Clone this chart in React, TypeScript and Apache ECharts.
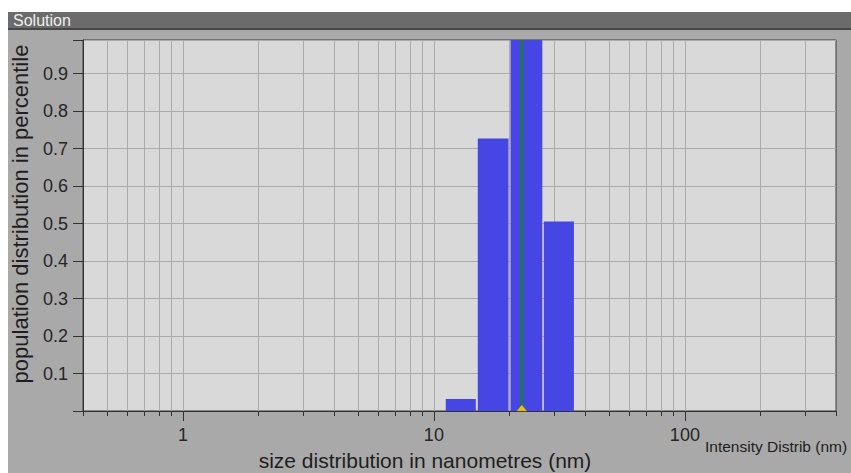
import React, { useEffect, useRef } from "react";
import * as echarts from "echarts";

// Histogram bins: [lower edge nm, upper edge nm, population fraction]
const binLower = [11.15, 14.96, 20.2, 27.42];
const binUpper = [14.69, 19.83, 27.04, 36.13];
const binValues = [0.032, 0.727, 0.99, 0.506];

// Mean size marker
const meanSize = [22.4];

// Axis settings / tick labels
const xMin = 0.4;
const xMax = 400;
const yMin = 0;
const yMax = 0.99;
const xMajorTicks = [1, 10, 100];
const xMinorTicks = [
  0.4, 0.5, 0.6, 0.7, 0.8, 0.9,
  2, 3, 4, 5, 6, 7, 8, 9,
  20, 30, 40, 50, 60, 70, 80, 90,
  200, 300, 400,
];
const yTickLabels = ["0.1", "0.2", "0.3", "0.4", "0.5", "0.6", "0.7", "0.8", "0.9"];

const FONT = "'Liberation Sans', Arial, Helvetica, sans-serif";

export default function App() {
  const ref = useRef<HTMLDivElement>(null);

  useEffect(() => {
    if (!ref.current) return;
    const chart = echarts.init(ref.current, null, { renderer: "svg" });

    const gridData = [
      ...xMinorTicks.map((v) => [v, 0]),
      ...xMajorTicks.map((v) => [v, 1]),
    ];
    const barData = binLower.map((lo, i) => [lo, binUpper[i], binValues[i]]);

    const isPow10 = (v: number) => {
      const l = Math.log10(v);
      return Math.abs(l - Math.round(l)) < 1e-6;
    };

    const option: any = {
      animation: false,
      backgroundColor: "#a9a9a9",
      grid: {
        left: 83,
        right: 15,
        top: 40,
        bottom: 62,
        show: true,
        backgroundColor: "#d9d9d9",
        borderColor: "#3a3a3a",
        borderWidth: 1,
      },
      xAxis: {
        type: "log",
        logBase: 10,
        min: xMin,
        max: xMax,
        axisLine: { show: true, lineStyle: { color: "#333", width: 1 } },
        axisTick: { show: false },
        splitLine: { show: false },
        minorTick: { show: false },
        axisLabel: {
          show: true,
          fontSize: 18,
          color: "#262626",
          fontFamily: FONT,
          margin: 15,
          showMinLabel: true,
          showMaxLabel: true,
          formatter: (v: number) =>
            isPow10(v) && xMajorTicks.some((t) => Math.abs(t - v) < 1e-6 * t)
              ? String(Math.round(v))
              : "",
        },
      },
      yAxis: {
        type: "value",
        min: yMin,
        max: yMax,
        interval: 0.1,
        axisLine: { show: true, lineStyle: { color: "#333", width: 1 } },
        axisTick: { show: true, length: 10, lineStyle: { color: "#333" } },
        splitLine: { show: true, lineStyle: { color: "#ababab", width: 1 } },
        axisLabel: {
          fontSize: 18,
          color: "#262626",
          fontFamily: FONT,
          margin: 15,
          formatter: (v: number) => {
            const s = v.toFixed(1);
            return yTickLabels.includes(s) && Math.abs(v - parseFloat(s)) < 1e-6 ? s : "";
          },
        },
      },
      graphic: [
        { type: "rect", shape: { x: 0, y: 0, width: 851, height: 12 }, style: { fill: "#ffffff" }, silent: true },
        { type: "rect", shape: { x: 0, y: 0, width: 8, height: 473 }, style: { fill: "#ffffff" }, silent: true },
        { type: "rect", shape: { x: 8, y: 12, width: 843, height: 17 }, style: { fill: "#6b6b6b" }, silent: true },
        { type: "rect", shape: { x: 8, y: 28, width: 843, height: 2 }, style: { fill: "#474747" }, silent: true },
        {
          type: "text",
          x: 13,
          y: 20,
          style: {
            text: "Solution",
            fill: "#efefef",
            font: `16px ${FONT}`,
            textVerticalAlign: "middle",
          },
          silent: true,
        },
        {
          type: "text",
          x: 425,
          y: 460,
          style: {
            text: "size distribution in nanometres (nm)",
            fill: "#1e1e1e",
            font: `21px ${FONT}`,
            textAlign: "center",
            textVerticalAlign: "middle",
          },
          silent: true,
        },
        {
          type: "text",
          x: 705,
          y: 446,
          style: {
            text: "Intensity Distrib (nm)",
            fill: "#1e1e1e",
            font: `15.5px ${FONT}`,
            textVerticalAlign: "middle",
          },
          silent: true,
        },
        {
          type: "text",
          x: 20,
          y: 214,
          rotation: Math.PI / 2,
          style: {
            text: "population distribution in percentile",
            fill: "#1e1e1e",
            font: `22px ${FONT}`,
            textAlign: "center",
            textVerticalAlign: "middle",
          },
          silent: true,
        },
      ],
      series: [
        {
          type: "custom",
          name: "xgrid",
          z: 1,
          silent: true,
          clip: false,
          data: gridData,
          encode: { x: 0, y: 1 },
          renderItem: (params: any, api: any) => {
            const v = api.value(0);
            const major = api.value(1) === 1;
            const pb = api.coord([v, yMin]);
            const pt = api.coord([v, yMax]);
            const x = Math.round(pb[0]) + 0.5;
            const children: any[] = [];
            const border = Math.abs(v - xMin) < 1e-9 || Math.abs(v - xMax) < 1e-9;
            if (!border) {
              children.push({
                type: "line",
                shape: { x1: x, y1: pt[1], x2: x, y2: pb[1] },
                style: { stroke: "#ababab", lineWidth: 1 },
              });
            }
            children.push({
              type: "line",
              shape: { x1: x, y1: pb[1], x2: x, y2: pb[1] + (major ? 10 : 5) },
              style: { stroke: "#333", lineWidth: 1 },
            });
            return { type: "group", children };
          },
        },
        {
          type: "custom",
          name: "bins",
          z: 3,
          silent: true,
          data: barData,
          encode: { x: [0, 1], y: 2 },
          renderItem: (params: any, api: any) => {
            const p0 = api.coord([api.value(0), yMin]);
            const p1 = api.coord([api.value(1), api.value(2)]);
            return {
              type: "rect",
              shape: {
                x: p0[0],
                y: p1[1],
                width: p1[0] - p0[0],
                height: p0[1] - p1[1],
              },
              style: { fill: "#4646e4" },
            };
          },
        },
        {
          type: "custom",
          name: "mean",
          z: 4,
          silent: true,
          clip: false,
          data: meanSize.map((v) => [v, yMax]),
          encode: { x: 0, y: 1 },
          renderItem: (params: any, api: any) => {
            const v = api.value(0);
            const pb = api.coord([v, yMin]);
            const pt = api.coord([v, yMax]);
            const x = pb[0];
            return {
              type: "group",
              children: [
                {
                  type: "line",
                  shape: { x1: x, y1: pt[1], x2: x, y2: pb[1] },
                  style: { stroke: "#1d7a45", lineWidth: 3 },
                },
                {
                  type: "polygon",
                  shape: {
                    points: [
                      [x - 5, pb[1]],
                      [x + 5, pb[1]],
                      [x, pb[1] - 6],
                    ],
                  },
                  style: { fill: "#e4c417", stroke: "#b09000", lineWidth: 0.5 },
                },
              ],
            };
          },
        },
      ],
    };

    chart.setOption(option);
    return () => chart.dispose();
  }, []);

  return (
    <div
      ref={ref}
      style={{ position: "fixed", left: 0, top: 0, width: 851, height: 473 }}
    />
  );
}
